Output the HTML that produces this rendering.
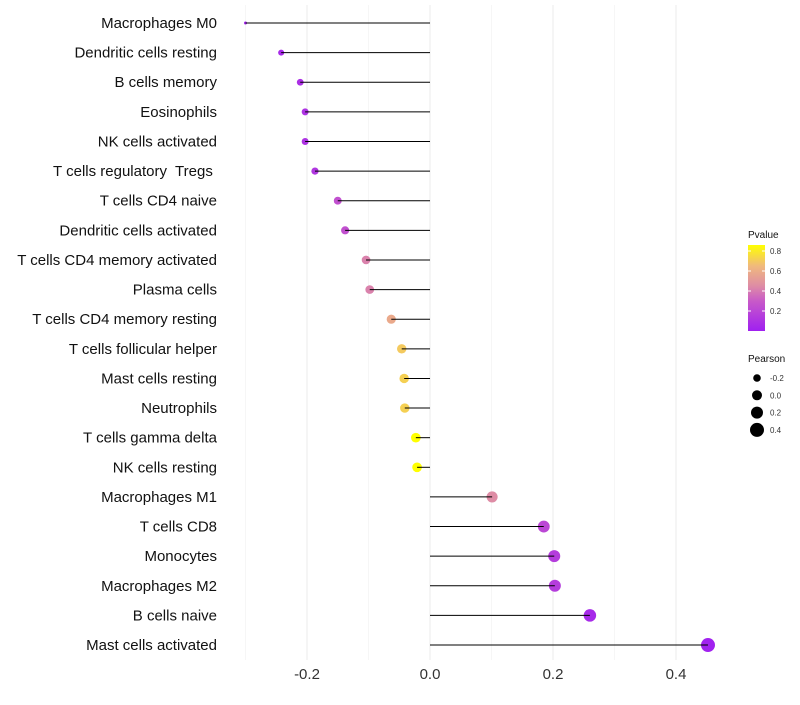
<!DOCTYPE html>
<html><head><meta charset="utf-8"><style>
body{margin:0;background:#fff;font-family:"Liberation Sans",sans-serif}
text{white-space:pre}
</style></head><body>
<svg id="c" width="800" height="700" xmlns="http://www.w3.org/2000/svg"></svg>
<script>
const categories=["Macrophages M0","Dendritic cells resting","B cells memory","Eosinophils","NK cells activated","T cells regulatory  Tregs ","T cells CD4 naive","Dendritic cells activated","T cells CD4 memory activated","Plasma cells","T cells CD4 memory resting","T cells follicular helper","Mast cells resting","Neutrophils","T cells gamma delta","NK cells resting","Macrophages M1","T cells CD8","Monocytes","Macrophages M2","B cells naive","Mast cells activated"];
const pearson=[-0.30,-0.242,-0.211,-0.203,-0.203,-0.187,-0.150,-0.138,-0.104,-0.098,-0.063,-0.046,-0.042,-0.041,-0.023,-0.021,0.101,0.185,0.202,0.203,0.26,0.452];
const pvalue=[0.02,0.05,0.08,0.1,0.1,0.12,0.25,0.25,0.42,0.42,0.58,0.7,0.72,0.72,0.86,0.86,0.45,0.2,0.15,0.15,0.05,0.01];
const xTicks=[-0.2,0,0.2,0.4];
const xTickLabels=["-0.2","0.0","0.2","0.4"];
const pTicks=[0.2,0.4,0.6,0.8];
const sizeTicks=[-0.2,0,0.2,0.4];
const NS="http://www.w3.org/2000/svg",svg=document.getElementById('c');
function el(t,a,p){const e=document.createElementNS(NS,t);for(const k in a)e.setAttribute(k,a[k]);(p||svg).appendChild(e);return e;}
const X=v=>430+v*615, Y=i=>23+i*29.62;
const stops=[[0,[160,32,240]],[0.3,[200,90,200]],[0.45,[222,140,165]],[0.65,[240,185,125]],[0.86,[255,255,0]]];
function col(p){for(let i=1;i<stops.length;i++){if(p<=stops[i][0]){const a=stops[i-1],b=stops[i],t=(p-a[0])/(b[0]-a[0]);return 'rgb('+a[1].map((c,j)=>Math.round(c+(b[1][j]-c)*t)).join(',')+')';}}return 'rgb(255,255,0)';}
const R=v=>1.5+5.5*Math.sqrt(Math.max(0,(v+0.3)/0.75));
[-0.3,-0.1,0.1,0.3].forEach(v=>{const g=el('line',{x1:X(v),x2:X(v),y1:5,y2:660,stroke:'#f3f3f3','stroke-width':0.7});});
xTicks.forEach((v,i)=>{const g=el('line',{x1:X(v),x2:X(v),y1:5,y2:660,stroke:'#ebebeb','stroke-width':1});
const t=el('text',{x:X(v),y:679,'text-anchor':'middle','font-size':15,fill:'#333'});t.textContent=xTickLabels[i];});
categories.forEach((c,i)=>{const y=Y(i);
const t=el('text',{x:217,y:y+5,'text-anchor':'end','font-size':15,fill:'#111'});t.textContent=c;
const d=el('circle',{cx:X(pearson[i]),cy:y,r:R(pearson[i]),fill:col(pvalue[i])});
const s=el('line',{x1:X(0),x2:X(pearson[i]),y1:y,y2:y,stroke:'#000','stroke-width':1});});
const lt=el('text',{x:748,y:238,'font-size':10,fill:'#111'});lt.textContent='Pvalue';
const defs=el('defs',{});const lg=el('linearGradient',{id:'g',x1:0,y1:1,x2:0,y2:0},defs);
stops.forEach(s=>el('stop',{offset:s[0]/0.86,'stop-color':col(s[0])},lg));
const bar=el('rect',{x:748,y:245,width:17,height:86,fill:'url(#g)'});
const PY=p=>331-p*100;
pTicks.forEach(p=>{el('line',{x1:748,x2:751,y1:PY(p),y2:PY(p),stroke:'#fff'});el('line',{x1:762,x2:765,y1:PY(p),y2:PY(p),stroke:'#fff'});
const t=el('text',{x:770,y:PY(p)+3,'font-size':8,fill:'#333'});t.textContent=p.toFixed(1);});
const st=el('text',{x:748,y:362,'font-size':10,fill:'#111'});st.textContent='Pearson';
sizeTicks.forEach((v,i)=>{const y=378+i*17.3;const c=el('circle',{cx:757,cy:y,r:[3.8,5,6,7][i],fill:'#000'});
const t=el('text',{x:770,y:y+3,'font-size':8,fill:'#333'});t.textContent=v.toFixed(1);});
</script>
</body></html>
